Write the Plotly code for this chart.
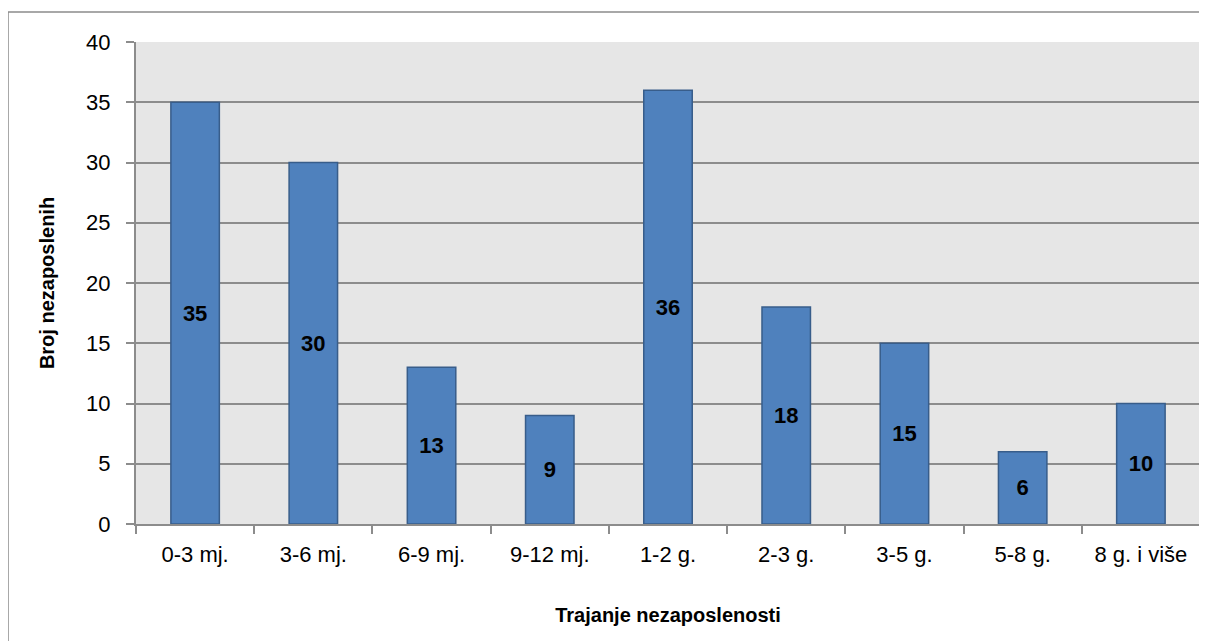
import plotly.graph_objects as go

categories = ["0-3 mj.", "3-6 mj.", "6-9 mj.", "9-12 mj.", "1-2 g.", "2-3 g.", "3-5 g.", "5-8 g.", "8 g. i više"]
values = [35, 30, 13, 9, 36, 18, 15, 6, 10]
y_ticks = [0, 5, 10, 15, 20, 25, 30, 35, 40]

FONT = "Liberation Sans Narrow, Arial Narrow, Liberation Sans, Arial, sans-serif"

fig = go.Figure(go.Bar(
    x=categories, y=values,
    text=[str(v) for v in values],
    textposition="inside", insidetextanchor="middle",
    textfont=dict(family=FONT, size=22, color="black", weight="bold"),
    marker=dict(color="#4F81BD", line=dict(color="#385D8A", width=1.5)),
    width=0.41,
))

fig.update_layout(
    width=1199, height=633,
    margin=dict(l=128, r=7, t=34, b=117),
    paper_bgcolor="white", plot_bgcolor="#E6E6E6",
    font=dict(family=FONT, size=22, color="black"),
    showlegend=False,
    shapes=[dict(type="rect", xref="paper", yref="paper", x0=-0.1203, x1=1.03, y0=-0.3, y1=1.0622,
                 line=dict(color="#8C8C8C", width=1.5), layer="below")],
)
fig.update_xaxes(
    title=dict(text="<b>Trajanje nezaposlenosti</b>", standoff=42, font=dict(size=20)),
    showline=True, linecolor="#8C8C8C", linewidth=2,
    ticks="outside", ticklen=8, tickcolor="#8C8C8C", tickwidth=2,
    tickson="boundaries", tickfont=dict(size=22), ticklabelstandoff=10,
)
fig.update_yaxes(
    title=dict(text="<b>Broj nezaposlenih</b>", standoff=26, font=dict(size=20)),
    range=[0, 40], tickvals=y_ticks,
    showgrid=True, gridcolor="#8C8C8C", gridwidth=1.5,
    showline=True, linecolor="#8C8C8C", linewidth=2,
    ticks="outside", ticklen=8, tickcolor="#8C8C8C", tickwidth=2,
    tickfont=dict(size=22), zeroline=False, ticklabelstandoff=11,
)
fig.write_html("out.html")
